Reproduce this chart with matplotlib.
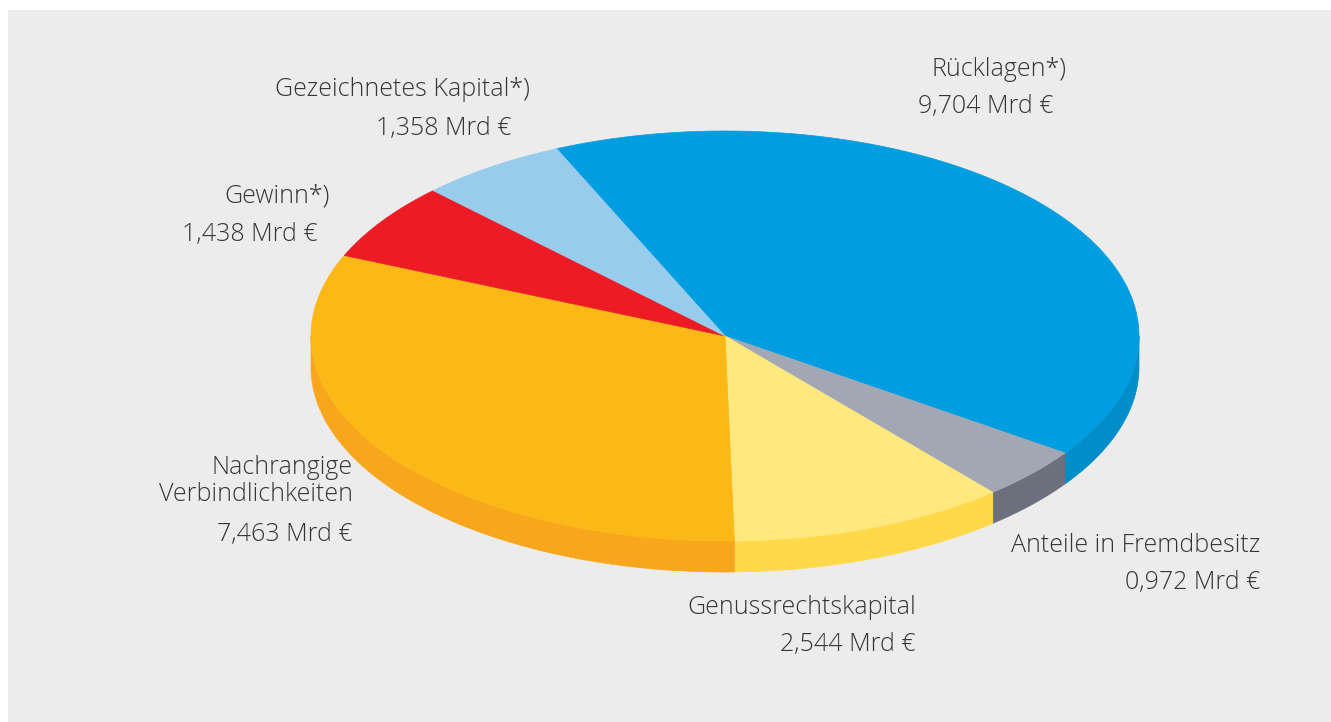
import numpy as np
import matplotlib
matplotlib.use("Agg")
import matplotlib.pyplot as plt
from matplotlib.patches import Polygon, Rectangle

# ---- data ----
categories = ["Rücklagen*)", "Anteile in Fremdbesitz", "Genussrechtskapital",
              "Nachrangige\nVerbindlichkeiten", "Gewinn*)", "Gezeichnetes Kapital*)"]
values = [9.704, 0.972, 2.544, 7.463, 1.438, 1.358]
value_labels = ["9,704 Mrd €", "0,972 Mrd €", "2,544 Mrd €", "7,463 Mrd €",
                "1,438 Mrd €", "1,358 Mrd €"]
top_colors = ["#009EE0", "#A2A8B3", "#FFE97F", "#FBB817", "#ED1C24", "#98CCEB"]
side_colors = ["#008DCA", "#6B707C", "#FFD94A", "#F8A61C", "#C8161D", "#7FB6D8"]

# ---- layout ----
W, H = 1331, 722
fig = plt.figure(figsize=(W / 100, H / 100), dpi=100)
ax = fig.add_axes([0, 0, 1, 1])
ax.set_xlim(0, W)
ax.set_ylim(H, 0)
ax.axis("off")
fig.patch.set_facecolor("white")
ax.add_patch(Rectangle((8, 10), W - 8, H - 10, facecolor="#ECECEC", edgecolor="none", zorder=0))

cx, cy, a, b, depth = 725, 336, 414, 205, 31
start = 114.0  # degrees, slices go clockwise

def pt(t_deg, dy=0.0):
    t = np.radians(t_deg)
    return cx + a * np.cos(t), cy - b * np.sin(t) + dy

total = sum(values)
angles = []
cur = start
for v in values:
    span = 360.0 * v / total
    angles.append((cur - span, cur))
    cur -= span

# sides (front half: angles in [180, 360] i.e. [-180, 0])
for (t0, t1), sc in zip(angles, side_colors):
    for shift in (-360, 0, 360):
        lo = max(t0 + shift, -180)
        hi = min(t1 + shift, 0)
        if hi > lo:
            ts = np.linspace(lo, hi, 100)
            top = [pt(t) for t in ts]
            bot = [pt(t, depth) for t in ts[::-1]]
            ax.add_patch(Polygon(top + bot, closed=True, facecolor=sc,
                                 edgecolor=sc, linewidth=0.5, zorder=2))

# top faces
for (t0, t1), tc in zip(angles, top_colors):
    ts = np.linspace(t0, t1, 200)
    poly = [(cx, cy)] + [pt(t) for t in ts]
    ax.add_patch(Polygon(poly, closed=True, facecolor=tc, edgecolor=tc,
                         linewidth=0.5, zorder=3))

# ---- labels ----
fs = 18
tcol = "#363636"
fam = ["Open Sans", "DejaVu Sans"]
label_pos = [  # (x, y_title, y_value, ha_title, x_value)
    (1066, 70, 106, "right", 1053),
    (1260, 545, 582, "right", 1260),
    (916, 607, 645, "right", 916),
    (353, 481, 534, "right", 353),
    (330, 196, 235, "right", 318),
    (530, 90, 128, "right", 512),
]
for cat, vl, (x, yt, yv, ha, xv) in zip(categories, value_labels, label_pos):
    ax.text(x, yt, cat, ha=ha, va="center", fontsize=fs, color=tcol,
            family=fam, fontweight="light", linespacing=1.15, zorder=5)
    ax.text(xv, yv, vl, ha="right", va="center", fontsize=fs, color=tcol,
            family=fam, fontweight="light", zorder=5)

fig.savefig("out.png", dpi=100, facecolor=fig.get_facecolor())
